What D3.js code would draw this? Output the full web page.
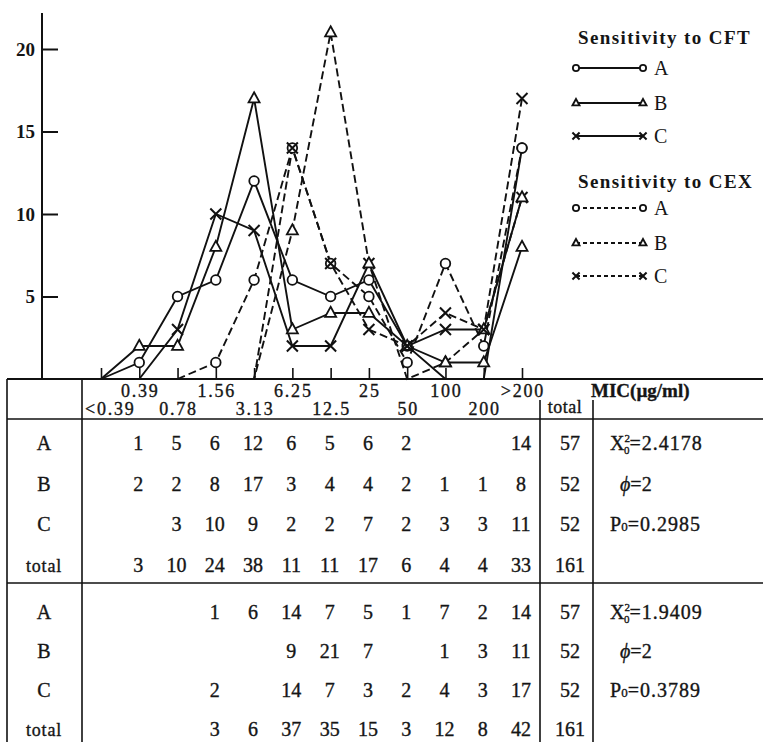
<!DOCTYPE html>
<html>
<head>
<meta charset="utf-8">
<script src="https://cdn.jsdelivr.net/npm/d3@7"></script>
<style>
  body { margin: 0; background: #fff; }
  svg { display: block; }
  text { font-family: "Liberation Serif", "Times New Roman", serif; fill: #151515; }
  .tbl text { stroke: #151515; stroke-width: 0.35; }
</style>
</head>
<body>
<svg id="chart" width="763" height="742"></svg>
<script>
// MIC classes (µg/ml)
const micLabels = ["<0.39", "0.39", "0.78", "1.56", "3.13", "6.25", "12.5", "25", "50", "100", "200", ">200"];
const rowNames = ["A", "B", "C"];

// CFT counts, null = blank cell in table
const cftA = [null, 1, 5, 6, 12, 6, 5, 6, 2, null, null, 14];
const cftB = [null, 2, 2, 8, 17, 3, 4, 4, 2, 1, 1, 8];
const cftC = [null, null, 3, 10, 9, 2, 2, 7, 2, 3, 3, 11];
const cftTotal = [null, 3, 10, 24, 38, 11, 11, 17, 6, 4, 4, 33];
const cftRowTotals = [57, 52, 52, 161];

// CEX counts
const cexA = [null, null, null, 1, 6, 14, 7, 5, 1, 7, 2, 14];
const cexB = [null, null, null, null, null, 9, 21, 7, null, 1, 3, 11];
const cexC = [null, null, null, 2, null, 14, 7, 3, 2, 4, 3, 17];
const cexTotal = [null, null, null, 3, 6, 37, 35, 15, 3, 12, 8, 42];
const cexRowTotals = [57, 52, 52, 161];

// class index where each curve leaves the baseline
const cftStart = [0, 0, 1];
const cexStart = [2, 2, 4];

const yTicks = [5, 10, 15, 20];
const cftStats = { chi: "2.4178", phi: "2", p: "0.2985" };
const cexStats = { chi: "1.9409", phi: "2", p: "0.3789" };

const svg = d3.select("#chart");

const x = d3.scalePoint().domain(micLabels).range([101, 522]);
const y = d3.scaleLinear().domain([0, 20]).range([379, 49]);

// ---- axes
svg.append("line").attr("x1", 42).attr("x2", 42).attr("y1", 13).attr("y2", 379)
  .attr("stroke", "#111").attr("stroke-width", 2);

const yAxis = svg.append("g").attr("transform", "translate(42,0)")
  .call(d3.axisLeft(y).tickValues(yTicks).tickSizeInner(-16).tickSizeOuter(0).tickPadding(7));
yAxis.select(".domain").remove();
yAxis.selectAll(".tick line").attr("stroke", "#111").attr("stroke-width", 2);
yAxis.selectAll(".tick text").attr("font-family", "Liberation Serif").attr("font-size", 19)
  .attr("font-weight", "bold").attr("fill", "#151515");

const xAxis = svg.append("g").attr("transform", "translate(0,379)")
  .call(d3.axisTop(x).tickSize(11).tickFormat(""));
xAxis.select(".domain").remove();
xAxis.selectAll(".tick line").attr("stroke", "#111").attr("stroke-width", 1.6);

// ---- curves
function curveValues(vals, start) {
  return vals.map((v, i) => i < start ? null : (v == null ? 0 : v));
}

const series = [];
[cftA, cftB, cftC].forEach((v, k) => series.push({ drug: "CFT", row: k, vals: curveValues(v, cftStart[k]) }));
[cexA, cexB, cexC].forEach((v, k) => series.push({ drug: "CEX", row: k, vals: curveValues(v, cexStart[k]) }));

const line = d3.line()
  .defined(d => d != null)
  .x((d, i) => x(micLabels[i]))
  .y(d => y(d));

function marker(g, row, cx, cy, s) {
  if (row === 0) {
    g.append("circle").attr("cx", cx).attr("cy", cy).attr("r", 4.8 * s)
      .attr("fill", "#fff").attr("stroke", "#111").attr("stroke-width", 1.8);
  } else if (row === 1) {
    const h = 10 * s, w = 11 * s;
    g.append("path")
      .attr("d", `M${cx},${cy - h * 0.62}L${cx + w / 2},${cy + h * 0.38}L${cx - w / 2},${cy + h * 0.38}Z`)
      .attr("fill", "#fff").attr("stroke", "#111").attr("stroke-width", 1.8);
  } else {
    const r = 5.5 * s;
    g.append("path")
      .attr("d", `M${cx - r},${cy - r}L${cx + r},${cy + r}M${cx + r},${cy - r}L${cx - r},${cy + r}`)
      .attr("stroke", "#111").attr("stroke-width", 2);
  }
}

const plot = svg.append("g");
series.forEach(s => {
  plot.append("path").attr("d", line(s.vals))
    .attr("fill", "none").attr("stroke", "#111").attr("stroke-width", 1.9)
    .attr("stroke-dasharray", s.drug === "CEX" ? "8,4" : null);
});
series.forEach(s => {
  s.vals.forEach((v, i) => {
    if (v) marker(plot, s.row, x(micLabels[i]), y(v), 1);
  });
});

// ---- legend
const legend = svg.append("g");
const legendBlocks = [
  { title: "Sensitivity to CFT", titleY: 44, ys: [68, 103, 136], dash: null },
  { title: "Sensitivity to CEX", titleY: 188, ys: [208, 243, 276], dash: "4,3" }
];
legendBlocks.forEach(b => {
  legend.append("text").attr("x", 578).attr("y", b.titleY).attr("font-size", 19)
    .attr("font-weight", "bold").attr("letter-spacing", 1.4).text(b.title);
  rowNames.forEach((n, k) => {
    legend.append("line").attr("x1", 576).attr("x2", 643).attr("y1", b.ys[k]).attr("y2", b.ys[k])
      .attr("stroke", "#111").attr("stroke-width", 1.8).attr("stroke-dasharray", b.dash);
    marker(legend, k, 576, b.ys[k], 0.65);
    marker(legend, k, 643, b.ys[k], 0.65);
    legend.append("text").attr("x", 654).attr("y", b.ys[k] + 7).attr("font-size", 20).text(n);
  });
});

// ---- table
const table = svg.append("g").attr("class", "tbl");
const ink = "#111";
[[379, 2.2], [419, 1.6], [583, 1.6]].forEach(([yy, w]) => {
  table.append("line").attr("x1", 7).attr("x2", 763).attr("y1", yy).attr("y2", yy)
    .attr("stroke", ink).attr("stroke-width", w);
});
[[7, 379], [82, 379], [540, 400], [593, 400]].forEach(([xx, y0]) => {
  table.append("line").attr("x1", xx).attr("x2", xx).attr("y1", y0).attr("y2", 742)
    .attr("stroke", ink).attr("stroke-width", 1.6);
});

// header
micLabels.forEach((lab, i) => {
  const top = i % 2 === 1;
  const t = table.append("text")
    .attr("y", top ? 397 : 415)
    .attr("font-size", 18).attr("letter-spacing", 1.8)
    .text(lab);
  if (i === 0) t.attr("x", 85).attr("text-anchor", "start");
  else t.attr("x", x(lab) + 1).attr("text-anchor", "middle");
});
table.append("text").attr("x", 591).attr("y", 397).attr("font-size", 19).attr("font-weight", "bold")
  .text("MIC(µg/ml)");
table.append("text").attr("x", 565).attr("y", 413).attr("font-size", 18).attr("text-anchor", "middle")
  .attr("letter-spacing", 0.5).text("total");

function block(rows, totals, rowYs, stats) {
  const labels = rowNames.concat(["total"]);
  rows.forEach((vals, r) => {
    const yy = rowYs[r] + 7;
    table.append("text").attr("x", 44).attr("y", yy).attr("text-anchor", "middle")
      .attr("font-size", r === 3 ? 18 : 20).attr("letter-spacing", r === 3 ? 0.8 : 0)
      .text(labels[r]);
    vals.forEach((v, i) => {
      if (v == null) return;
      table.append("text").attr("x", x(micLabels[i]) - 1).attr("y", yy)
        .attr("text-anchor", "middle").attr("font-size", 20).text(v);
    });
    table.append("text").attr("x", 570).attr("y", yy).attr("text-anchor", "middle")
      .attr("font-size", 20).text(totals[r]);
  });
  // statistics
  const chi = table.append("text").attr("x", 610).attr("y", rowYs[0] + 7).attr("font-size", 20);
  chi.append("tspan").text("X");
  chi.append("tspan").attr("font-size", 11).attr("dy", -8).text("2");
  chi.append("tspan").attr("font-size", 11).attr("dx", -6).attr("dy", 12).text("0");
  chi.append("tspan").attr("dy", -4).attr("letter-spacing", 1).text("=" + stats.chi);
  table.append("text").attr("x", 620).attr("y", rowYs[1] + 7).attr("font-size", 20)
    .attr("font-style", "italic").text("ϕ")
    .append("tspan").attr("font-style", "normal").text("=" + stats.phi);
  const p = table.append("text").attr("x", 610).attr("y", rowYs[2] + 7).attr("font-size", 20);
  p.append("tspan").text("P");
  p.append("tspan").attr("font-size", 13).text("0");
  p.append("tspan").attr("letter-spacing", 1).text("=" + stats.p);
}

block([cftA, cftB, cftC, cftTotal], cftRowTotals, [443, 484, 524, 565], cftStats);
block([cexA, cexB, cexC, cexTotal], cexRowTotals, [612, 651, 690, 729], cexStats);
</script>
</body>
</html>
